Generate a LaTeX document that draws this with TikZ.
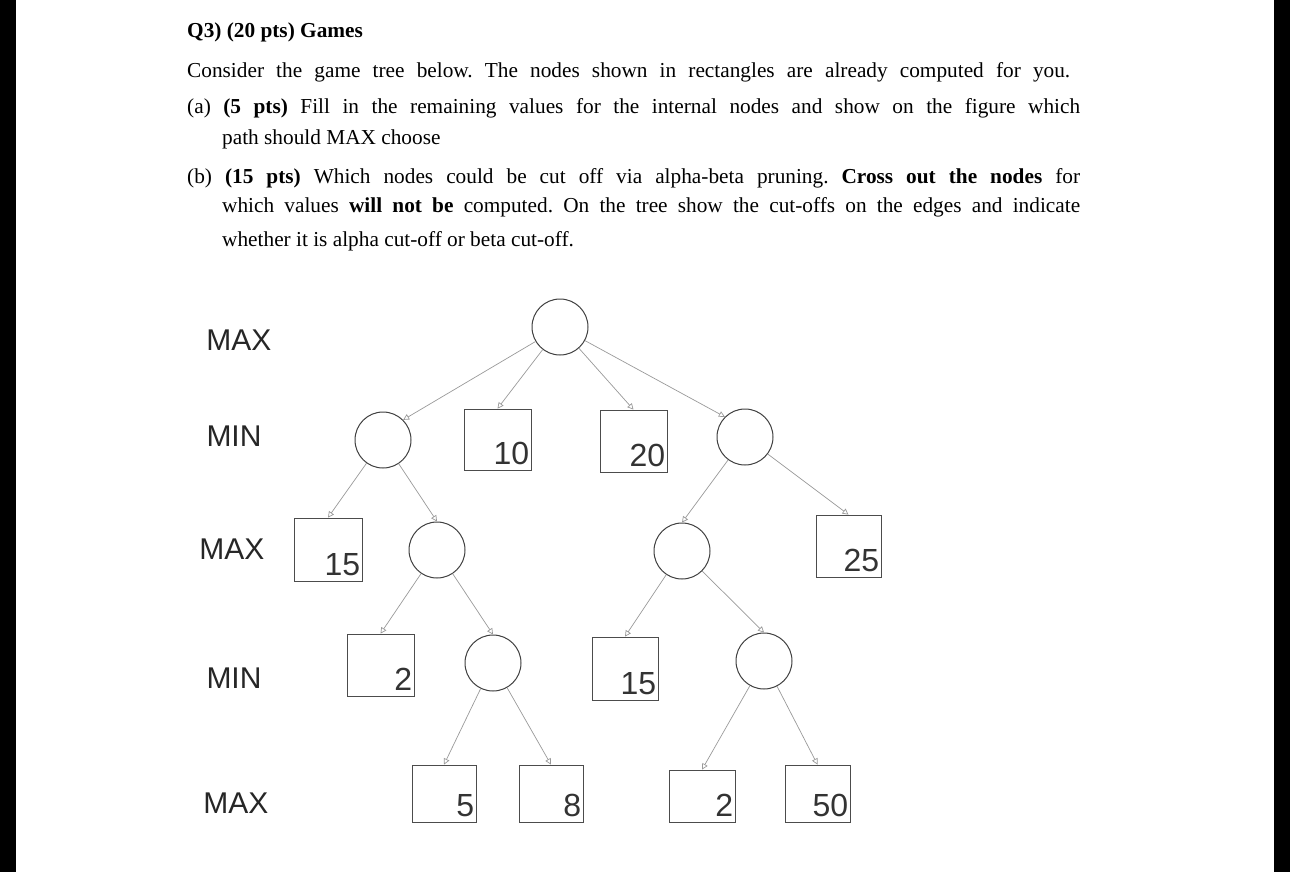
\documentclass[tikz,border=0pt]{standalone}
\usepackage{fontspec}
\setmainfont{Liberation Serif}
\newfontfamily\lab{Liberation Sans}
\usetikzlibrary{arrows.meta}
\begin{document}
\frenchspacing
\begin{tikzpicture}[x=1pt,y=-1pt,
  inner node/.style={circle,draw=black!75,line width=1pt,minimum size=56pt,inner sep=0pt},
  leaf/.style={draw=black!70,line width=0.8pt,inner sep=0pt},
  num/.style={font=\lab\fontsize{32}{32}\selectfont,text=black!80,inner sep=0pt},
  lvl/.style={font=\lab\fontsize{30}{30}\selectfont,text=black!85},
  txt/.style={anchor=base west,inner sep=0pt,font=\fontsize{21.3}{24}\selectfont},
  edge/.style={draw=black!40,line width=0.7pt,-{Triangle[open,length=6pt,width=6pt]}}]
\fill[black] (0,0) rectangle (16,872);
\fill[black] (1274,0) rectangle (1290,872);
\useasboundingbox (0,0) rectangle (1290,872);
% header text
\node[txt] (t0) at (187,38) {\textbf{Q3) (20 pts) Games}};
\node[txt] (t1) at (187,78) {\makebox[883pt][s]{Consider the game tree below. The nodes shown in rectangles are already computed for you.}};
\node[txt] (t2) at (187,114) {\makebox[893pt][s]{(a) \textbf{(5 pts)} Fill in the remaining values for the internal nodes and show on the figure which}};
\node[txt] (t3) at (222,144) {path should MAX choose};
\node[txt] (t4) at (187,183) {\makebox[893pt][s]{(b) \textbf{(15 pts)} Which nodes could be cut off via alpha-beta pruning. \textbf{Cross out the nodes} for}};
\node[txt] (t5) at (222,212) {\makebox[858pt][s]{which values \textbf{will not be} computed. On the tree show the cut-offs on the edges and indicate}};
\node[txt] (t6) at (222,246) {whether it is alpha cut-off or beta cut-off.};
% level labels
\node[lvl] (l1) at (239,340) {MAX};
\node[lvl] (l2) at (234,436) {MIN};
\node[lvl] (l3) at (232,549) {MAX};
\node[lvl] (l4) at (234,678) {MIN};
\node[lvl] (l5) at (236,803) {MAX};
% internal nodes
\node[inner node] (root) at (560,327) {};
\node[inner node] (minL) at (383,440) {};
\node[inner node] (minR) at (745,437) {};
\node[inner node] (maxL) at (437,550) {};
\node[inner node] (maxR) at (682,551) {};
\node[inner node] (minLL) at (493,663) {};
\node[inner node] (minRR) at (764,661) {};
% leaves
\newcommand{\leafbox}[6]{%
  \node[leaf,minimum width=#4pt,minimum height=#5pt] (#1) at (#2,#3) {};
  \node[num,anchor=base east] at ([xshift=-2pt,yshift=6pt]#1.south east) {#6};}
\leafbox{b10}{497.5}{439.5}{67}{61}{10}
\leafbox{b20}{633.5}{441}{67}{62}{20}
\leafbox{b15}{328}{549.5}{68}{63}{15}
\leafbox{b25}{848.5}{546}{65}{62}{25}
\leafbox{b2}{380.5}{665}{67}{62}{2}
\leafbox{b15b}{625}{668.5}{66}{63}{15}
\leafbox{b5}{444}{793.5}{64}{57}{5}
\leafbox{b8}{551}{793.5}{64}{57}{8}
\leafbox{b2b}{702}{796}{66}{52}{2}
\leafbox{b50}{817.5}{793.5}{65}{57}{50}
% edges
\draw[edge] (root) -- (minL.north east);
\draw[edge] (root) -- (b10.north);
\draw[edge] (root) -- (b20.north);
\draw[edge] (root) -- (minR.north west);
\draw[edge] (minL) -- (b15.north);
\draw[edge] (minL) -- (maxL.north);
\draw[edge] (maxL) -- (b2.north);
\draw[edge] (maxL) -- (minLL.north);
\draw[edge] (minLL) -- (b5.north);
\draw[edge] (minLL) -- (b8.north);
\draw[edge] (minR) -- (maxR.north);
\draw[edge] (minR) -- (b25.north);
\draw[edge] (maxR) -- (b15b.north);
\draw[edge] (maxR) -- (minRR.north);
\draw[edge] (minRR) -- (b2b.north);
\draw[edge] (minRR) -- (b50.north);
\end{tikzpicture}
\end{document}
